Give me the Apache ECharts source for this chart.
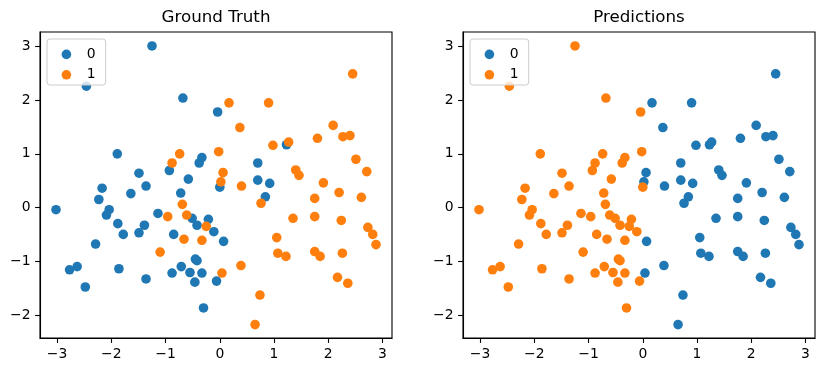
<!DOCTYPE html>
<html>
<head>
<meta charset="utf-8">
<script src="https://cdn.jsdelivr.net/npm/echarts@6/dist/echarts.min.js"></script>
<style>
html,body{margin:0;padding:0;background:#fff;}
#chart{width:825px;height:374px;}
</style>
</head>
<body>
<div id="chart"></div>
<script>
// ---- data ----
const pointX = [-1.25,-2.46,-0.68,-0.04,-1.89,-0.74,-0.88,-0.33,-0.38,-0.02,
  -1.49,-0.93,-0.58,2.45,0.17,0.90,0.37,2.09,1.80,2.27,
  2.40,1.27,1.23,0.98,0.70,2.51,2.71,0.06,1.40,1.46,
  0.02,0.00,0.40,0.70,0.92,0.84,0.76,1.91,2.20,2.61,
  1.75,-2.17,-1.36,-1.64,-2.23,-0.72,-0.69,-3.02,-2.04,-2.09,
  -1.14,-0.96,-0.61,-0.51,-0.42,-0.21,-0.25,-0.11,-1.88,-1.39,
  -1.78,-1.49,-0.85,-0.66,-0.33,-2.29,-1.10,-0.45,-0.42,-2.77,
  -2.63,-1.86,-0.71,-0.88,-0.55,-0.33,-0.46,-0.06,-1.36,-2.48,
  -0.30,0.07,1.35,1.75,2.24,2.73,2.82,2.88,1.05,1.07,
  1.22,1.75,1.85,2.26,0.04,0.39,2.17,2.36,0.74,0.65];
const pointY = [3.01,2.26,2.04,1.78,1.00,1.00,0.83,0.93,0.83,1.04,
  0.64,0.69,0.53,2.49,1.95,1.95,1.49,1.53,1.29,1.32,
  1.34,1.22,1.17,1.16,0.83,0.90,0.67,0.65,0.70,0.60,
  0.48,0.38,0.40,0.51,0.45,0.20,0.08,0.46,0.28,0.19,
  0.17,0.36,0.40,0.26,0.15,0.27,0.06,-0.04,-0.04,-0.14,
  -0.11,-0.17,-0.14,-0.20,-0.33,-0.22,-0.35,-0.45,-0.30,-0.33,
  -0.50,-0.47,-0.50,-0.59,-0.61,-0.68,-0.83,-0.96,-0.99,-1.16,
  -1.10,-1.14,-1.10,-1.22,-1.21,-1.22,-1.39,-1.37,-1.33,-1.48,
  -1.87,-0.63,-0.20,-0.17,-0.24,-0.37,-0.50,-0.69,-0.56,-0.85,
  -0.91,-0.82,-0.91,-0.85,-1.22,-1.08,-1.30,-1.41,-1.63,-2.18];
const trueLabel = [0,0,0,0,0,1,1,0,0,1,
  0,0,0,1,1,1,1,1,1,1,
  1,1,0,1,0,1,1,1,1,1,
  1,0,1,0,0,0,1,1,1,1,
  1,0,0,0,0,0,1,0,0,0,
  0,1,1,0,0,0,1,0,0,0,
  0,0,0,1,1,0,1,0,0,0,
  0,0,0,0,0,0,0,0,0,0,
  0,0,1,1,1,1,1,1,1,1,
  1,1,1,1,1,1,1,1,1,1];
const predLabel = [1,1,1,1,1,1,1,1,1,1,
  1,1,1,0,0,0,0,0,0,0,
  0,0,0,0,0,0,0,0,0,0,
  0,1,0,0,0,0,0,0,0,0,
  0,1,1,1,1,1,1,1,1,1,
  1,1,1,1,1,1,1,1,1,1,
  1,1,1,1,1,1,1,1,1,1,
  1,1,1,1,1,1,1,1,1,1,
  1,0,0,0,0,0,0,0,0,0,
  0,0,0,0,0,0,0,0,0,0];
const classNames = ['0','1'];
const titles = ['Ground Truth','Predictions'];
const xTicks = [-3,-2,-1,0,1,2,3];
const yTicks = [-2,-1,0,1,2,3];

// ---- styling / layout ----
const colors = ['#1f77b4','#ff7f0e'];
const FONT = 'DejaVu Sans';
const grids = [
  {left:40, top:32, width:352, height:306},
  {left:463, top:32, width:352, height:306}
];
const fmt = v => (v < 0 ? '\u2212' : '') + Math.abs(v);

function pts(labels, cls){
  const out = [];
  for (let i = 0; i < pointX.length; i++) if (labels[i] === cls) out.push([pointX[i], pointY[i]]);
  return out;
}

function axisCommon(ticks){
  return {
    axisLine:{show:true, onZero:false, lineStyle:{color:'#000', width:1.1}},
    axisTick:{show:true, inside:false, length:4.9, lineStyle:{color:'#000', width:1.1}, customValues:ticks},
    axisLabel:{show:true, margin:9.5, color:'#000', fontSize:13.9, fontFamily:FONT, formatter:fmt, customValues:ticks},
    splitLine:{show:false}
  };
}

const xAxis = [], yAxis = [], series = [], legend = [], graphic = [];
const labelSets = [trueLabel, predLabel];
grids.forEach((g, gi) => {
  xAxis.push(Object.assign({type:'value', gridIndex:gi, min:-3.315, max:3.175}, axisCommon(xTicks)));
  yAxis.push(Object.assign({type:'value', gridIndex:gi, min:-2.43, max:3.27}, axisCommon(yTicks)));
  classNames.forEach((name, ci) => {
    series.push({
      type:'scatter', name:name, xAxisIndex:gi, yAxisIndex:gi,
      data: pts(labelSets[gi], ci),
      symbol:'circle', symbolSize:9.6,
      itemStyle:{color:colors[ci], opacity:1},
      emphasis:{disabled:true}, z:2
    });
  });
  legend.push({
    data: classNames, orient:'vertical', left:g.left+21.6, top:g.top+15.4,
    padding:0, itemWidth:9.6, itemHeight:9.6, itemGap:6.4, icon:'circle',
    textStyle:{fontSize:13.9, fontFamily:FONT, color:'#000', padding:[0,0,0,10.5]},
    selectedMode:false, z:20
  });
  graphic.push({
    type:'rect', z:10, silent:true,
    shape:{x:g.left+7, y:g.top+7, width:58.7, height:46, r:3},
    style:{fill:'rgba(255,255,255,0.8)', stroke:'#cccccc', lineWidth:1}
  });
  graphic.push({
    type:'text', z:10, silent:true,
    x:g.left + g.width/2, y:18,
    style:{text:titles[gi], fill:'#000', font:'16.7px "DejaVu Sans"', align:'center', verticalAlign:'middle'}
  });
});

const chart = echarts.init(document.getElementById('chart'), null, {renderer:'canvas'});
chart.setOption({
  animation:false,
  backgroundColor:'#fff',
  grid: grids.map(g => Object.assign({show:true, borderColor:'#000', borderWidth:1.1, backgroundColor:'transparent'}, g)),
  xAxis, yAxis, series, legend, graphic,
  tooltip:{show:false}
});
</script>
</body>
</html>
